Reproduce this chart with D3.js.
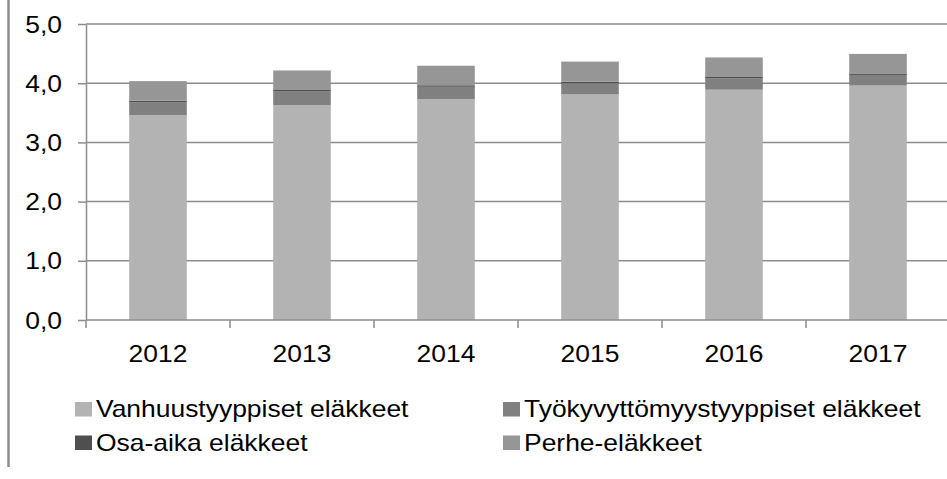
<!DOCTYPE html>
<html>
<head>
<meta charset="utf-8">
<script src="https://cdn.jsdelivr.net/npm/d3@7"></script>
<style>
  body { margin: 0; background: #fff; }
  svg { display: block; font-family: 'Liberation Sans', Arial, sans-serif; }
</style>
</head>
<body>
<div id="chart"></div>
<script>
// data (billion euros)
const years = ['2012', '2013', '2014', '2015', '2016', '2017'];
const vanhuus = [3.46, 3.63, 3.73, 3.81, 3.89, 3.96];
const tyokyvyttomyys = [0.22, 0.23, 0.21, 0.19, 0.19, 0.18];
const osaAika = [0.025, 0.025, 0.025, 0.025, 0.025, 0.025];
const perhe = [0.33, 0.33, 0.33, 0.34, 0.33, 0.33];
const yTicks = [0, 1, 2, 3, 4, 5];

const seriesNames = ['Vanhuustyyppiset eläkkeet', 'Työkyvyttömyystyyppiset eläkkeet', 'Osa-aika eläkkeet', 'Perhe-eläkkeet'];
const seriesColors = ['#b3b3b3', '#808080', '#4f4f4f', '#969696'];

const width = 947, height = 479;
const sx = 1.15; // the picture is stretched a little sideways
const fontSize = 23;

const mySVG = d3.select('#chart')
    .append('svg')
        .attr('width', width)
        .attr('height', height);

// left frame line
mySVG.append('line')
    .attr('x1', 8.5).attr('x2', 8.5)
    .attr('y1', 0).attr('y2', 467)
    .attr('stroke', '#8c8c8c')
    .attr('stroke-width', 2.5);

const x = d3.scaleBand()
    .domain(years)
    .range([86, 950])
    .paddingInner(0.6)
    .paddingOuter(0.3);

const y = d3.scaleLinear()
    .domain([0, 5])
    .range([320, 24]);

// stack the four series
const table = years.map((yr, i) => ({
    year: yr,
    s0: vanhuus[i], s1: tyokyvyttomyys[i], s2: osaAika[i], s3: perhe[i]
}));
const stacked = d3.stack().keys(['s0', 's1', 's2', 's3'])(table);

// gridlines
mySVG.append('g')
    .selectAll('line')
    .data(yTicks.slice(1))
    .join('line')
        .attr('x1', 86).attr('x2', 950)
        .attr('y1', d => y(d)).attr('y2', d => y(d))
        .attr('stroke', '#8c8c8c')
        .attr('stroke-width', 1.5);

// bars
mySVG.append('g')
    .selectAll('g')
    .data(stacked)
    .join('g')
        .attr('fill', (d, i) => seriesColors[i])
    .selectAll('rect')
    .data(d => d)
    .join('rect')
        .attr('x', d => x(d.data.year))
        .attr('width', x.bandwidth())
        .attr('y', d => y(d[1]))
        .attr('height', d => y(d[0]) - y(d[1]));

// y axis
const yAxis = mySVG.append('g')
    .attr('transform', 'translate(86,0)')
    .call(d3.axisLeft(y).tickValues(yTicks).tickSize(8).tickSizeOuter(0)
        .tickFormat(d => d3.format('.1f')(d).replace('.', ',')));
yAxis.selectAll('path, line').attr('stroke', '#8c8c8c').attr('stroke-width', 1.5);
yAxis.selectAll('text')
    .attr('x', -24 / sx)
    .attr('dy', '0.35em')
    .attr('transform', `scale(${sx},1)`)
    .attr('fill', '#000')
    .style('font-size', fontSize + 'px')
    .style('font-family', "'Liberation Sans', Arial, sans-serif");

// x axis baseline and boundary ticks
const xAxis = mySVG.append('g');
xAxis.append('line')
    .attr('x1', 86).attr('x2', 950)
    .attr('y1', y(0)).attr('y2', y(0))
    .attr('stroke', '#8c8c8c').attr('stroke-width', 1.5);
const bounds = years.map(d => x(d) + x.bandwidth() / 2 - x.step() / 2)
    .concat([x(years[years.length - 1]) + x.bandwidth() / 2 + x.step() / 2]);
xAxis.selectAll('line.tick')
    .data(bounds)
    .join('line')
        .attr('class', 'tick')
        .attr('x1', d => d).attr('x2', d => d)
        .attr('y1', y(0)).attr('y2', y(0) + 8)
        .attr('stroke', '#8c8c8c').attr('stroke-width', 1.5);
xAxis.selectAll('text')
    .data(years)
    .join('text')
        .attr('transform', d => `translate(${x(d) + x.bandwidth() / 2},362) scale(${sx},1)`)
        .attr('text-anchor', 'middle')
        .style('font-size', fontSize + 'px')
        .text(d => d);

// legend
const legendPos = [[75, 417], [503, 417], [75, 450.5], [503, 450.5]];
const legend = mySVG.append('g')
    .selectAll('g')
    .data(seriesNames)
    .join('g')
        .attr('transform', (d, i) => `translate(${legendPos[i][0]},${legendPos[i][1]})`);
legend.append('rect')
    .attr('x', 0).attr('y', -15)
    .attr('width', 17).attr('height', 14.5)
    .attr('fill', (d, i) => seriesColors[i]);
legend.append('text')
    .attr('transform', `translate(21,0) scale(${sx},1)`)
    .style('font-size', fontSize + 'px')
    .text(d => d);
</script>
</body>
</html>
